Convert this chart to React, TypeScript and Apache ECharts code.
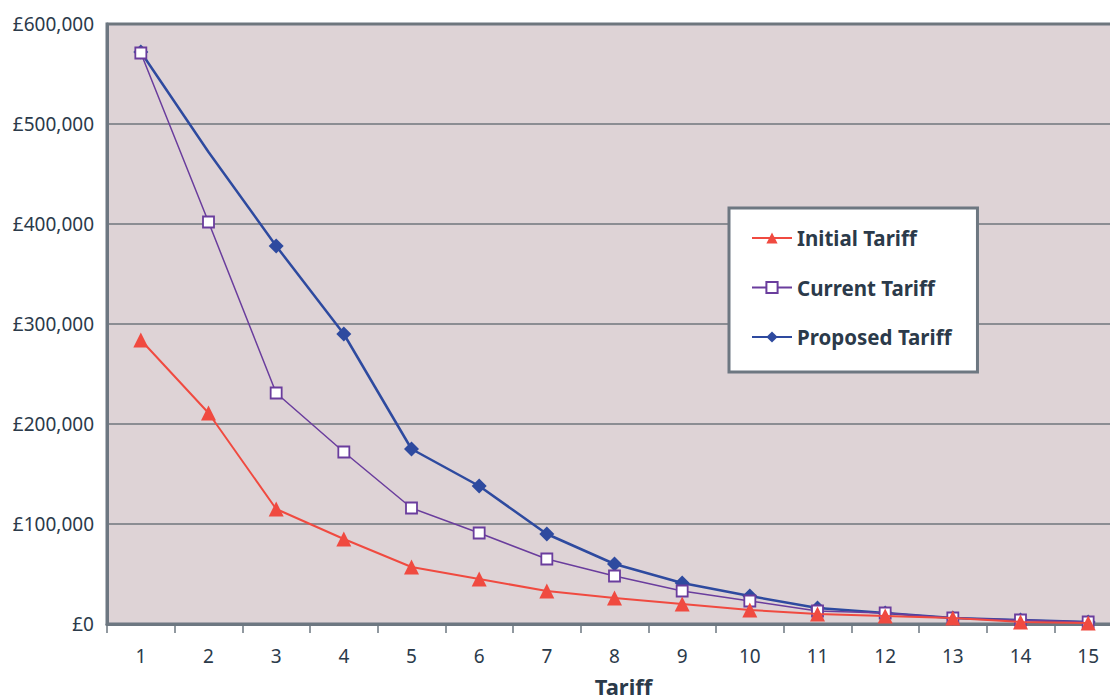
import React, { useEffect, useRef } from "react";
import * as echarts from "echarts";

const categories = ["1", "2", "3", "4", "5", "6", "7", "8", "9", "10", "11", "12", "13", "14", "15"];
const initialTariff = [284000, 211000, 115000, 85000, 57000, 45000, 33000, 26000, 20000, 14000, 10000, 8000, 6000, 2000, 1000];
const currentTariff = [571000, 402000, 231000, 172000, 116000, 91000, 65000, 48000, 33000, 23000, 13000, 11000, 6000, 4000, 2000];
const proposedTariff = [572000, 472000, 378000, 290000, 175000, 138000, 90000, 60000, 41000, 28000, 16000, 11000, 6000, 4000, 2000];
const noMarkerIndexProposed = [1];
const yTicks = [0, 100000, 200000, 300000, 400000, 500000, 600000];

const TEXT = "#2b3a4a";
const AXIS = "#6d7781";
const FONT = "Noto Sans";

export default function App() {
  const ref = useRef<HTMLDivElement>(null);
  useEffect(() => {
    document.body.style.margin = "0";
    const chart = echarts.init(ref.current!, null, { renderer: "svg" });
    const fmt = (v: number) => "£" + v.toLocaleString("en-GB");
    chart.setOption({
      animation: false,
      textStyle: { fontFamily: FONT },
      grid: {
        left: 107,
        top: 24,
        width: 1015,
        height: 600,
        outerBoundsMode: "none",
        containLabel: false,
        show: true,
        backgroundColor: "#ded3d6",
        borderColor: AXIS,
        borderWidth: 3,
      },
      legend: {
        orient: "vertical",
        left: 729,
        top: 208,
        backgroundColor: "#ffffff",
        borderColor: AXIS,
        borderWidth: 3,
        padding: [18, 26, 23, 22],
        itemGap: 25.5,
        itemWidth: 40,
        itemHeight: 14,
        textStyle: { fontFamily: FONT, fontSize: 20.5, fontWeight: "bold", color: TEXT, lineHeight: 24, padding: [0, 0, 0, 0] },
        data: ["Initial Tariff", "Current Tariff", "Proposed Tariff"],
      },
      xAxis: {
        type: "category",
        data: categories,
        boundaryGap: true,
        name: "Tariff",
        nameLocation: "middle",
        nameGap: 51,
        nameTextStyle: { fontFamily: FONT, fontSize: 22, fontWeight: "bold", color: TEXT, padding: [0, 0, 0, 18] },
        axisLine: { show: true, lineStyle: { color: AXIS, width: 3 } },
        axisTick: { show: true, alignWithLabel: false, length: 9, lineStyle: { color: AXIS, width: 1.5 } },
        axisLabel: { color: TEXT, fontSize: 19, margin: 22, fontFamily: FONT },
        splitLine: { show: false },
      },
      yAxis: {
        type: "value",
        min: yTicks[0],
        max: yTicks[yTicks.length - 1],
        interval: 100000,
        axisLine: { show: true, lineStyle: { color: AXIS, width: 3 } },
        axisTick: { show: false },
        axisLabel: { color: TEXT, fontSize: 19, margin: 13, fontFamily: FONT, formatter: (v: number) => fmt(v) },
        splitLine: { show: true, lineStyle: { color: "#6f767d", width: 1.5 } },
      },
      series: [
        {
          name: "Initial Tariff",
          type: "line",
          data: initialTariff,
          symbol: "triangle",
          symbolSize: 15,
          color: "#f04a40",
          lineStyle: { color: "#f04a40", width: 2 },
          itemStyle: { color: "#f04a40" },
          z: 4,
        },
        {
          name: "Current Tariff",
          type: "line",
          data: currentTariff,
          symbol: "rect",
          symbolSize: 11,
          color: "#6a3d9d",
          lineStyle: { color: "#6a3d9d", width: 1.5 },
          itemStyle: { color: "#ffffff", borderColor: "#6a3d9d", borderWidth: 1.8 },
          z: 3,
        },
        {
          name: "Proposed Tariff",
          type: "line",
          data: proposedTariff.map((v, i) =>
            noMarkerIndexProposed.includes(i) ? { value: v, symbol: "none" } : v
          ),
          symbol: "diamond",
          symbolSize: 15,
          color: "#2e4a9f",
          lineStyle: { color: "#2e4a9f", width: 2.5 },
          itemStyle: { color: "#2e4a9f" },
          z: 2,
        },
      ],
    });
    return () => chart.dispose();
  }, []);
  return <div ref={ref} style={{ width: 1110, height: 700 }} />;
}
